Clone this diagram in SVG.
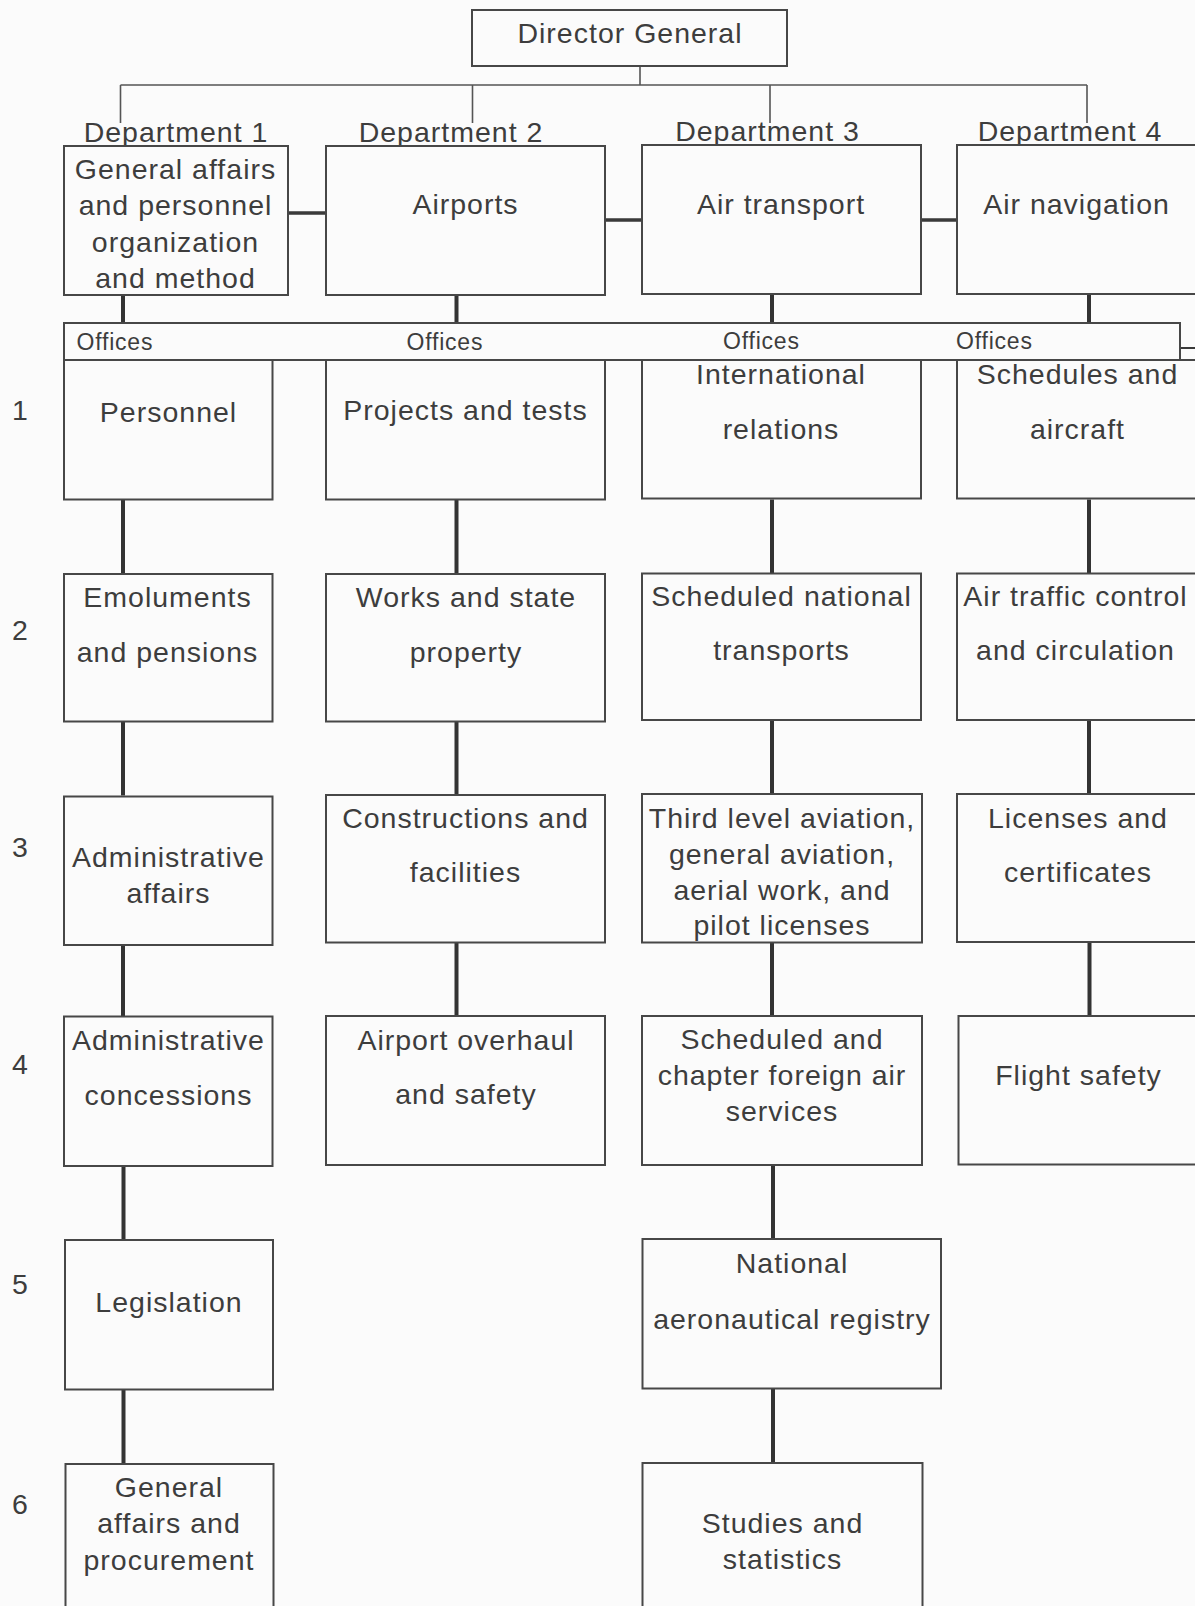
<svg xmlns="http://www.w3.org/2000/svg" width="1195" height="1606" viewBox="0 0 1195 1606">
<style>
  text { font-family: "Liberation Sans", Arial, sans-serif; font-size: 28.5px; letter-spacing: 1px; fill: #3d3d3d; text-anchor: middle; }
  .num { text-anchor: start; }
  .off { font-size: 23px; letter-spacing: 0.8px; text-anchor: start; }
  .box { fill: #fbfbfb; stroke: #474747; stroke-width: 2; }
  .thin { fill: none; stroke: #555; stroke-width: 1.6; }
  .thick { fill: none; stroke: #333; stroke-width: 4; }
  .mid { fill: none; stroke: #3a3a3a; stroke-width: 3.5; }
</style>
<rect x="0" y="0" width="1195" height="1606" fill="#fbfbfb"/>

<g id="connectors">
  <path class="thin" d="M640 66 V85 M120.5 85 H1087 M120.5 85 V123 M472.5 85 V123 M770 85 V123 M1087 85 V123"/>
  <path class="mid" d="M288 213 H326 M605 220 H642 M921 220 H957"/>
  <path class="thick" d="M123 295 V323 M456.5 295 V323 M772 294 V323 M1089 294 V323"/>
  <path class="thick" d="M123 499.5 V574 M456.5 499.5 V574 M772 499.5 V574 M1089 499.5 V574"/>
  <path class="thick" d="M123 721 V795.5 M456.5 721 V795.5 M772 721 V795.5 M1089 721 V795.5"/>
  <path class="thick" d="M123 942.5 V1016 M456.5 942.5 V1016 M772 942.5 V1016 M1089.5 942.5 V1016"/>
  <path class="thick" d="M123.5 1165 V1239.5 M773 1165 V1239.5"/>
  <path class="thick" d="M123.5 1389 V1463.5 M773 1389 V1463.5"/>
  <path class="mid" d="M1180 348 H1196" style="stroke-width:2"/>
</g>

<g id="director-general">
  <rect class="box" x="472" y="10" width="315" height="56"/>
  <text x="630" y="43">Director General</text>
</g>

<g id="dept1">
  <text x="176" y="141.5">Department 1</text>
  <rect class="box" x="64" y="146" width="224" height="149"/>
  <text x="175.5" y="179">General affairs</text>
  <text x="175.5" y="215">and personnel</text>
  <text x="175.5" y="251.5">organization</text>
  <text x="175.5" y="288">and method</text>
</g>
<g id="dept2">
  <text x="451" y="141.5">Department 2</text>
  <rect class="box" x="326" y="146" width="279" height="149"/>
  <text x="465.5" y="214">Airports</text>
</g>
<g id="dept3">
  <text x="767.5" y="141">Department 3</text>
  <rect class="box" x="642" y="145" width="279" height="149"/>
  <text x="781" y="214">Air transport</text>
</g>
<g id="dept4">
  <text x="1070" y="141">Department 4</text>
  <rect class="box" x="957" y="145" width="245" height="149"/>
  <text x="1076.5" y="214">Air navigation</text>
</g>

<g id="offices-bar">
  <rect class="box" x="64" y="323" width="1116" height="37"/>
  <text class="off" x="76.5" y="350">Offices</text>
  <text class="off" x="406.5" y="349.5">Offices</text>
  <text class="off" x="723" y="349">Offices</text>
  <text class="off" x="956" y="349">Offices</text>
</g>

<g id="row-numbers">
  <text class="num" x="12" y="420">1</text>
  <text class="num" x="12" y="640">2</text>
  <text class="num" x="12" y="856.5">3</text>
  <text class="num" x="12" y="1073.5">4</text>
  <text class="num" x="12" y="1293.5">5</text>
  <text class="num" x="12" y="1513.5">6</text>
</g>

<g id="personnel">
  <rect class="box" x="64" y="360" width="208.5" height="139.5"/>
  <text x="168.5" y="421.5">Personnel</text>
</g>
<g id="projects-tests">
  <rect class="box" x="326" y="360" width="279" height="139.5"/>
  <text x="465.5" y="420">Projects and tests</text>
</g>
<g id="international-relations">
  <rect class="box" x="642" y="360" width="279" height="138.5"/>
  <text x="781" y="383.5">International</text>
  <text x="781" y="438.5">relations</text>
</g>
<g id="schedules-aircraft">
  <rect class="box" x="957" y="360" width="245" height="138.5"/>
  <text x="1077.5" y="383.5">Schedules and</text>
  <text x="1077.5" y="438.5">aircraft</text>
</g>

<g id="emoluments">
  <rect class="box" x="64" y="574" width="208.5" height="147.5"/>
  <text x="167.5" y="606.5">Emoluments</text>
  <text x="167.5" y="661.5">and pensions</text>
</g>
<g id="works-property">
  <rect class="box" x="326" y="574" width="279" height="147.5"/>
  <text x="466" y="606.5">Works and state</text>
  <text x="466" y="661.5">property</text>
</g>
<g id="scheduled-national">
  <rect class="box" x="642" y="573.5" width="279" height="146.5"/>
  <text x="781.5" y="605.5">Scheduled national</text>
  <text x="781.5" y="660">transports</text>
</g>
<g id="air-traffic">
  <rect class="box" x="957" y="573.5" width="245" height="146.5"/>
  <text x="1075.5" y="605.5">Air traffic control</text>
  <text x="1075.5" y="660">and circulation</text>
</g>

<g id="admin-affairs">
  <rect class="box" x="64" y="796.5" width="208.5" height="148.5"/>
  <text x="168.5" y="866.5">Administrative</text>
  <text x="168.5" y="902.5">affairs</text>
</g>
<g id="constructions">
  <rect class="box" x="326" y="795" width="279" height="147.5"/>
  <text x="465.5" y="827.5">Constructions and</text>
  <text x="465.5" y="881.5">facilities</text>
</g>
<g id="third-level">
  <rect class="box" x="642" y="794" width="280" height="148.5"/>
  <text x="782" y="827.5">Third level aviation,</text>
  <text x="782" y="864">general aviation,</text>
  <text x="782" y="899.5">aerial work, and</text>
  <text x="782" y="935">pilot licenses</text>
</g>
<g id="licenses">
  <rect class="box" x="957" y="794" width="245" height="148"/>
  <text x="1078" y="827.5">Licenses and</text>
  <text x="1078" y="881.5">certificates</text>
</g>

<g id="admin-concessions">
  <rect class="box" x="64" y="1016.5" width="208.5" height="149.5"/>
  <text x="168.5" y="1049.5">Administrative</text>
  <text x="168.5" y="1105">concessions</text>
</g>
<g id="airport-overhaul">
  <rect class="box" x="326" y="1016" width="279" height="149"/>
  <text x="466" y="1049.5">Airport overhaul</text>
  <text x="466" y="1103.5">and safety</text>
</g>
<g id="foreign-air">
  <rect class="box" x="642" y="1016" width="280" height="149"/>
  <text x="782" y="1048.5">Scheduled and</text>
  <text x="782" y="1085">chapter foreign air</text>
  <text x="782" y="1120.5">services</text>
</g>
<g id="flight-safety">
  <rect class="box" x="958.5" y="1016" width="245" height="148.5"/>
  <text x="1078.5" y="1085">Flight safety</text>
</g>

<g id="legislation">
  <rect class="box" x="65" y="1240" width="208" height="149.5"/>
  <text x="169" y="1311.5">Legislation</text>
</g>
<g id="aeronautical-registry">
  <rect class="box" x="642.5" y="1239" width="298.5" height="149.5"/>
  <text x="792" y="1272.5">National</text>
  <text x="792" y="1328.5">aeronautical registry</text>
</g>

<g id="general-procurement">
  <rect class="box" x="65.5" y="1464" width="208" height="150"/>
  <text x="169" y="1496.5">General</text>
  <text x="169" y="1533">affairs and</text>
  <text x="169" y="1569.5">procurement</text>
</g>
<g id="studies-statistics">
  <rect class="box" x="642.5" y="1463" width="280" height="150"/>
  <text x="782.5" y="1532.5">Studies and</text>
  <text x="782.5" y="1568.5">statistics</text>
</g>
</svg>
